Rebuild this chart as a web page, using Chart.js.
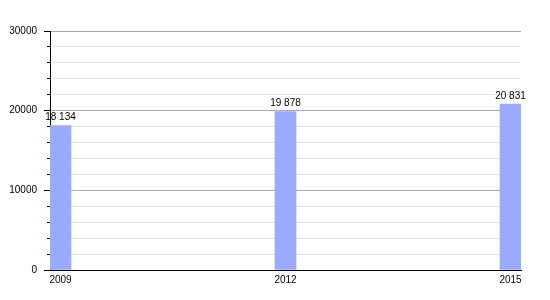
<!DOCTYPE html>
<html lang="fr">
<head>
    <meta charset="UTF-8">
    <title>Population</title>
    <script src="https://cdn.jsdelivr.net/npm/chart.js"></script>
    <style>
        body { margin: 0; background: #fff; }
    </style>
</head>
<body>
    <canvas id="popChart" width="550" height="300"></canvas>

    <script>
        // Données du graphique
        const years = [2009, 2012, 2015];
        const population = [18134, 19878, 20831];
        const yTickLabels = [0, 10000, 20000, 30000];

        // Séparateur de milliers avec une espace : 18 134
        function formatNumber(v) {
            return String(v).replace(/\B(?=(\d{3})+(?!\d))/g, " ");
        }

        // Plugin pour écrire la valeur au-dessus de chaque barre
        const barValues = {
            id: "barValues",
            afterDatasetsDraw(chart) {
                const ctx = chart.ctx;
                const meta = chart.getDatasetMeta(0);
                ctx.save();
                ctx.font = "10px 'Liberation Sans', Arial, sans-serif";
                ctx.fillStyle = "#000";
                ctx.textAlign = "center";
                ctx.textBaseline = "bottom";
                meta.data.forEach((bar, i) => {
                    ctx.fillText(formatNumber(population[i]), bar.x, bar.y - 3);
                });
                ctx.restore();
            }
        };

        const font = { family: "'Liberation Sans', Arial, sans-serif", size: 10 };

        new Chart(document.getElementById("popChart"), {
            type: "bar",
            data: {
                datasets: [{
                    data: years.map((y, i) => ({ x: y, y: population[i] })),
                    backgroundColor: "#99aaff",
                    borderWidth: 0,
                    barThickness: 21
                }]
            },
            options: {
                responsive: false,
                animation: false,
                devicePixelRatio: 1,
                layout: { padding: { top: 31, right: 29, left: 0, bottom: 0 } },
                plugins: { legend: { display: false }, tooltip: { enabled: false } },
                scales: {
                    x: {
                        type: "linear",
                        offset: false,
                        min: 2008.86,
                        max: 2015.14,
                        afterBuildTicks: scale => {
                            scale.ticks = years.map(v => ({ value: v }));
                        },
                        afterFit: scale => { scale.height = 30; },
                        grid: { display: false, drawTicks: false, offset: false },
                        border: { color: "#000", width: 1 },
                        ticks: {
                            color: "#000",
                            font: font,
                            padding: 4,
                            maxRotation: 0,
                            callback: v => String(v)
                        }
                    },
                    y: {
                        min: 0,
                        max: 30000,
                        afterFit: scale => { scale.width = 50; },
                        grid: {
                            color: c => (c.tick && c.tick.value % 10000 === 0) ? "#aaaaaa" : "#e4e4e4",
                            tickColor: "#000",
                            tickLength: 6,
                            tickBorderDash: c => (c.tick && c.tick.value % 10000 === 0) ? [] : [0, 3, 3]
                        },
                        border: { color: "#000", width: 1 },
                        ticks: {
                            stepSize: 2000,
                            color: "#000",
                            font: font,
                            padding: 7,
                            callback: v => yTickLabels.includes(v) ? String(v) : ""
                        }
                    }
                }
            },
            plugins: [barValues]
        });
    </script>
</body>
</html>
